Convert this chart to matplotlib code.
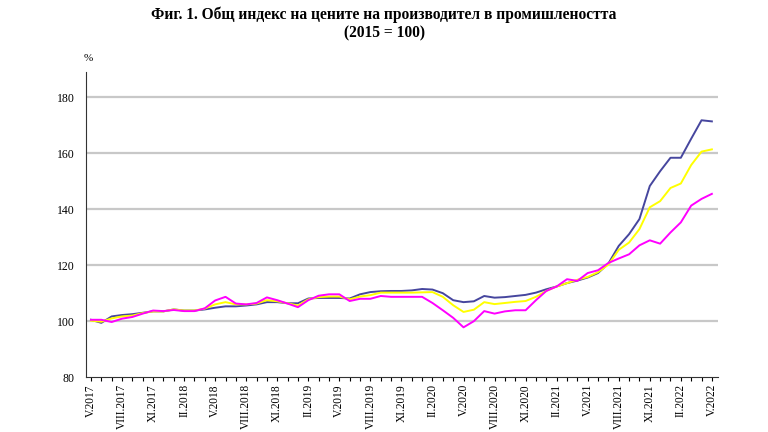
import numpy as np
import matplotlib.pyplot as plt

months = ["I", "II", "III", "IV", "V", "VI", "VII", "VIII", "IX", "X", "XI", "XII"]
# monthly points V.2017 .. V.2022
total = [100.5, 99.4, 101.7, 102.2, 102.5, 103.0, 103.5, 103.5, 104.2, 103.8,
         103.8, 104.2, 104.8, 105.3, 105.3, 105.6, 106.0, 106.8, 106.8, 106.4,
         106.4, 108.1, 108.3, 108.3, 108.3, 108.1, 109.6, 110.4, 110.7, 110.8,
         110.8, 111.0, 111.5, 111.3, 110.0, 107.5, 106.8, 107.1, 109.0, 108.4,
         108.6, 109.0, 109.4, 110.2, 111.4, 112.4, 113.6, 114.5, 115.6, 117.2,
         120.6, 126.9, 131.1, 136.5, 148.3, 153.6, 158.4, 158.4, 165.2, 171.8,
         171.4]
domestic = [100.2, 99.8, 101.0, 101.7, 102.0, 102.9, 103.5, 103.5, 104.2, 103.8,
            103.8, 104.5, 106.0, 106.8, 106.0, 106.0, 106.3, 107.5, 107.1, 106.4,
            105.6, 107.8, 108.6, 108.8, 108.8, 107.8, 108.8, 109.3, 110.2, 110.2,
            110.2, 110.2, 110.3, 110.4, 108.7, 105.7, 103.3, 104.1, 106.8, 106.1,
            106.5, 106.9, 107.2, 108.7, 110.8, 112.4, 113.6, 114.8, 115.8, 117.5,
            120.2, 125.5, 128.1, 132.9, 140.7, 142.9, 147.6, 149.2, 155.8, 160.6,
            161.4]
foreign = [100.5, 100.5, 99.7, 100.9, 101.5, 102.7, 103.8, 103.6, 104.0, 103.6,
           103.6, 104.6, 107.4, 108.7, 106.3, 106.0, 106.5, 108.5, 107.5, 106.3,
           105.0, 107.5, 109.1, 109.6, 109.6, 107.2, 108.0, 108.0, 109.0, 108.7,
           108.7, 108.7, 108.7, 106.5, 103.9, 101.2, 97.8, 100.0, 103.6, 102.7,
           103.5, 103.9, 103.9, 107.5, 110.8, 112.4, 115.0, 114.4, 117.2, 118.2,
           120.8, 122.4, 123.9, 127.1, 128.9, 127.7, 131.7, 135.3, 141.3, 143.7,
           145.5]

x = np.arange(len(total))
labels = []
for i in x:
    m = (4 + i) % 12
    y = 2017 + (4 + i) // 12
    labels.append(months[m] + "." + str(y))

plt.rcParams['font.family'] = ['Liberation Serif', 'DejaVu Serif']

fig = plt.figure(figsize=(7.68, 4.32), dpi=100)
ax = fig.add_axes([0.112, 0.127, 0.823, 0.706])

for v in [100, 120, 140, 160, 180]:
    ax.axhline(v, color='#c8c8c8', lw=1.6, zorder=1)

ax.plot(x, total, color='#46469e', lw=1.4, zorder=3)
ax.plot(x, domestic, color='#ffff00', lw=1.4, zorder=3)
ax.plot(x, foreign, color='#ff00ff', lw=1.4, zorder=4)

ax.set_xlim(-0.48, 60.6)
ax.set_ylim(80, 189)
ax.set_yticks([80, 100, 120, 140, 160, 180])
ax.tick_params(axis='y', length=0, labelsize=8.5, pad=8)
ax.set_xticks(x[::3])
ax.set_xticklabels(labels[::3], rotation=90, fontsize=8.3)
ax.set_xticks(x, minor=True)
ax.tick_params(axis='x', which='both', direction='out', length=3, width=0.8, pad=2)

ax.spines['top'].set_visible(False)
ax.spines['right'].set_visible(False)
ax.spines['left'].set_color('#333333')
ax.spines['bottom'].set_color('#333333')

fig.text(0.115, 0.858, "%", fontsize=8, ha='center')
fig.text(0.5, 0.955, "Фиг. 1. Общ индекс на цените на производител в промишлеността",
         fontsize=11.2, fontweight='bold', ha='center')
fig.text(0.5, 0.913, "(2015 = 100)", fontsize=11.2, fontweight='bold', ha='center')

fig.savefig("out.png", dpi=100)
